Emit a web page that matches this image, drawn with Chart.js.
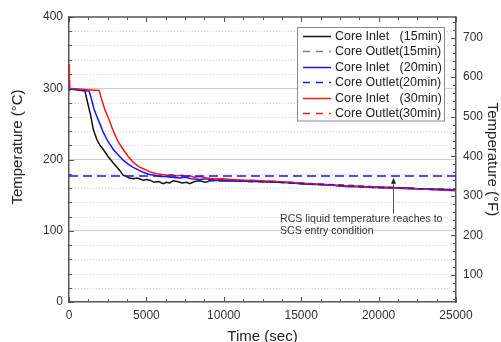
<!DOCTYPE html>
<html>
<head>
<meta charset="utf-8">
<script src="https://cdn.jsdelivr.net/npm/chart.js@4.4.0/dist/chart.umd.min.js"></script>
<style>
  html, body { margin: 0; padding: 0; background: #fff; overflow: hidden; }
  #wrap { width: 501px; height: 350px; }
</style>
</head>
<body>
<div id="wrap"><canvas id="chart" width="501" height="350"></canvas></div>
<script>
// Datos (tiempo en s, temperatura en °C)
const timeInlet15 = [0, 0, 60, 500, 1030, 1200, 1400, 1570, 1800, 2000, 2215, 2500, 2860, 3100, 3300, 3500, 3720, 3900, 4150, 4400, 4800, 5000, 5225, 5500, 5800, 6085, 6300, 6500, 6730, 7000, 7300, 7600, 7800, 8100, 8450, 8800, 9200, 9600, 9955, 10500, 11000, 11700, 12400, 13000, 13700, 14400, 15000, 15800, 16500, 17200, 18000, 18800, 19500, 20300, 21000, 21800, 22500, 23300, 24000, 24600, 25000];
const tempInlet15 = [300, 312, 299, 298, 296, 280, 262, 242, 228, 220, 214, 205, 195, 189, 184, 178, 176, 174, 173, 174, 171, 172, 171, 168, 169, 166, 168, 167, 170, 169, 167, 168, 166, 169, 170, 168, 170, 171, 170, 170, 170, 169, 169, 168, 168, 167, 166, 165, 165, 164, 162, 162, 161, 161, 160, 160, 159, 159, 158, 158, 157];

const timeInlet20 = [0, 0, 60, 600, 1300, 1450, 1600, 1785, 2000, 2215, 2500, 2860, 3200, 3500, 3800, 4150, 4500, 4800, 5200, 5500, 5870, 6200, 6600, 7160, 7500, 7900, 8450, 8900, 9400, 9955, 10500, 11200, 11900, 12600, 13300, 14000, 14800, 15500, 16200, 17000, 17800, 18600, 19400, 20200, 21000, 21800, 22600, 23400, 24200, 25000];
const tempInlet20 = [300, 305, 299, 298, 296, 285, 272, 261, 250, 238, 226, 214, 206, 199, 194, 189, 185, 182, 179, 178, 176, 176, 175, 174, 175, 173, 172, 173, 171, 171, 171, 170, 170, 169, 169, 168, 167, 166, 165, 164, 162, 162, 161, 161, 160, 160, 159, 158, 158, 157];

const timeInlet30 = [0, 0, 50, 600, 1200, 1950, 2100, 2320, 2600, 2860, 3150, 3500, 3800, 4150, 4500, 4800, 5010, 5300, 5660, 6000, 6300, 6600, 6950, 7300, 7590, 7800, 8100, 8500, 8880, 9300, 9955, 10500, 11200, 11900, 12600, 13300, 14000, 14800, 15500, 16200, 17000, 17800, 18600, 19400, 20200, 21000, 21800, 22600, 23400, 24200, 25000];
const tempInlet30 = [300, 334, 300, 299, 298, 297, 285, 270, 255, 240, 226, 214, 205, 196, 190, 187, 185, 182, 180, 179, 178, 179, 177, 178, 176, 177, 175, 176, 174, 173, 173, 172, 171, 171, 170, 169, 168, 167, 166, 165, 164, 163, 162, 161, 160, 160, 159, 159, 158, 157, 156];

// Core Outlet: sólo visible donde se separa de Inlet
const timeOutlet = [9000, 10500, 12000, 13500, 15000, 16500, 18000, 19500, 21000, 22500, 24000, 25000];
const tempOutlet15 = [170, 170, 169, 168, 167, 165, 163, 162, 160, 159, 158, 157];
const tempOutlet20 = [171, 170, 169, 168, 166, 165, 163, 161, 160, 159, 158, 157];
const tempOutlet30 = [173, 171, 170, 169, 167, 165, 164, 162, 161, 159, 158, 157];

// Condición de entrada SCS (350 °F)
const scsEntryTemp = 176.7;
const timeRange = [0, 25000];

// Ticks
const xTicks = [0, 5000, 10000, 15000, 20000, 25000];
const yTicks = [0, 100, 200, 300, 400];
const fTicks = [100, 200, 300, 400, 500, 600, 700];

const FONT = "'Liberation Sans', Arial, sans-serif";
const AXIS = '#555';

function pts(xs, ys) {
  return xs.map((x, i) => ({ x, y: ys[i] }));
}

function serie(label, xs, ys, color, dash, order) {
  return {
    label, data: pts(xs, ys), borderColor: color, backgroundColor: color,
    borderWidth: 1.5, borderDash: dash || [], pointRadius: 0, tension: 0, order
  };
}

const datasets = [
  serie('Core Inlet   (15min)', timeInlet15, tempInlet15, '#111111', null, 6),
  serie('Core Outlet(15min)', timeOutlet, tempOutlet15, '#808080', [6, 4], 3),
  serie('Core Inlet   (20min)', timeInlet20, tempInlet20, '#1515ff', null, 5),
  serie('Core Outlet(20min)', timeOutlet, tempOutlet20, '#1515ff', [6, 4], 1),
  serie('Core Inlet   (30min)', timeInlet30, tempInlet30, '#ff1515', null, 4),
  serie('Core Outlet(30min)', timeOutlet, tempOutlet30, '#ff1515', [6, 4], 2),
  Object.assign(serie('SCS entry', timeRange, [scsEntryTemp, scsEntryTemp], '#1515ff', [9, 5], 0), { hideInLegend: true })
];

// Rejilla menor punteada y borde superior
const gridMenor = {
  id: 'gridMenor',
  beforeDatasetsDraw(chart) {
    const { ctx, chartArea: a, scales: { y } } = chart;
    ctx.save();
    ctx.strokeStyle = '#d4d4d4';
    ctx.lineWidth = 1;
    ctx.setLineDash([1, 2]);
    for (let v = 20; v < 400; v += 20) {
      if (v % 100 === 0) continue;
      const py = Math.round(y.getPixelForValue(v)) + 0.5;
      ctx.beginPath(); ctx.moveTo(a.left, py); ctx.lineTo(a.right, py); ctx.stroke();
    }
    ctx.restore();
  },
  afterDraw(chart) {
    const { ctx, chartArea: a, scales: { x, y, y2 } } = chart;
    ctx.save();
    ctx.strokeStyle = AXIS;
    ctx.lineWidth = 1.5;
    ctx.beginPath(); ctx.moveTo(a.left, a.top); ctx.lineTo(a.right, a.top); ctx.stroke();
    // ticks hacia dentro
    ctx.lineWidth = 1;
    const line = (x1, y1, x2, y2_) => { ctx.beginPath(); ctx.moveTo(x1, y1); ctx.lineTo(x2, y2_); ctx.stroke(); };
    for (let v = 0; v <= 25000; v += 1250) {
      const px = Math.round(x.getPixelForValue(v)) + 0.5;
      const len = v % 5000 === 0 ? 5 : 3;
      line(px, a.bottom, px, a.bottom - len);
      line(px, a.top, px, a.top + len);
    }
    for (let v = 0; v <= 400; v += 20) {
      const py = Math.round(y.getPixelForValue(v)) + 0.5;
      line(a.left, py, a.left + (v % 100 === 0 ? 5 : 3), py);
    }
    for (let v = 40; v <= 740; v += 20) {
      const py = Math.round(y2.getPixelForValue(v)) + 0.5;
      line(a.right, py, a.right - (v % 100 === 0 ? 5 : 3), py);
    }
    ctx.restore();
  }
};

// Leyenda dentro del área del gráfico
const leyenda = {
  id: 'leyenda',
  afterDraw(chart) {
    const { ctx, chartArea: a } = chart;
    const items = chart.data.datasets.filter(d => !d.hideInLegend);
    const left = a.right - 159, top = a.top + 10, w = 147, rowH = 15.5;
    const h = items.length * rowH + 0.5;
    ctx.save();
    ctx.fillStyle = '#fff';
    ctx.fillRect(left, top, w, h);
    ctx.strokeStyle = '#8a8a8a';
    ctx.lineWidth = 1;
    ctx.strokeRect(left + 0.5, top + 0.5, w, h);
    ctx.font = '12.5px ' + FONT;
    ctx.textBaseline = 'middle';
    items.forEach((d, i) => {
      const yy = Math.round(top + 8.5 + i * rowH) + 0.5;
      ctx.strokeStyle = d.borderColor;
      ctx.lineWidth = 1.5;
      ctx.setLineDash(d.borderDash.length ? [7, 6] : []);
      ctx.beginPath(); ctx.moveTo(left + 6, yy); ctx.lineTo(left + 34, yy); ctx.stroke();
      ctx.setLineDash([]);
      ctx.fillStyle = '#222';
      ctx.fillText(d.label, left + 38, yy);
    });
    ctx.restore();
  }
};

// Nota con flecha
const nota = {
  id: 'nota',
  afterDatasetsDraw(chart) {
    const { ctx, scales: { x, y } } = chart;
    const ax = Math.round(x.getPixelForValue(20900)) + 0.5;
    const y0 = y.getPixelForValue(124), y1 = y.getPixelForValue(174.5);
    ctx.save();
    ctx.strokeStyle = '#555';
    ctx.fillStyle = '#222';
    ctx.lineWidth = 1;
    ctx.beginPath(); ctx.moveTo(ax, y0); ctx.lineTo(ax, y1 + 4); ctx.stroke();
    ctx.beginPath(); ctx.moveTo(ax, y1); ctx.lineTo(ax - 2.5, y1 + 6); ctx.lineTo(ax + 2.5, y1 + 6); ctx.closePath(); ctx.fill();
    ctx.font = '10.6px ' + FONT;
    ctx.fillStyle = '#333';
    ctx.textBaseline = 'middle';
    const tx = x.getPixelForValue(13630);
    ctx.fillText('RCS liquid temperature reaches to', tx, y.getPixelForValue(117));
    ctx.fillText('SCS entry condition', tx, y.getPixelForValue(99));
    ctx.restore();
  }
};

const tickFont = { family: FONT, size: 12 };
const titleFont = { family: FONT, size: 15 };
const plainNum = v => String(v);

new Chart(document.getElementById('chart'), {
  type: 'line',
  data: { datasets },
  options: {
    responsive: false,
    animation: false,
    parsing: false,
    layout: { padding: { left: 0, right: 0, top: 17, bottom: 0 } },
    plugins: { legend: { display: false }, tooltip: { enabled: false } },
    scales: {
      x: {
        type: 'linear', position: 'bottom', min: 0, max: 25000,
        afterBuildTicks: s => { s.ticks = xTicks.map(v => ({ value: v })); },
        afterFit: s => { s.height = 48; },
        ticks: { font: tickFont, color: '#333', padding: 6, maxRotation: 0, autoSkip: false, callback: plainNum },
        grid: { drawOnChartArea: false, drawTicks: false },
        border: { color: AXIS, width: 1.5 },
        title: { display: true, text: 'Time (sec)', font: titleFont, color: '#222', padding: { top: 0, bottom: 4 } }
      },
      y: {
        type: 'linear', position: 'left', min: 0, max: 400,
        afterBuildTicks: s => { s.ticks = yTicks.map(v => ({ value: v })); },
        afterFit: s => { s.width = 69; },
        ticks: { font: tickFont, color: '#333', padding: 6, callback: plainNum },
        grid: {
          drawTicks: false,
          color: c => (c.tick && (c.tick.value === 0 || c.tick.value === 400)) ? 'rgba(0,0,0,0)' : '#cfcfcf'
        },
        border: { color: AXIS, width: 1.5 },
        title: { display: true, text: '      Temperature (°C)', font: titleFont, color: '#222', padding: { top: 9 } }
      },
      y2: {
        type: 'linear', position: 'right', min: 32, max: 752,
        afterBuildTicks: s => { s.ticks = fTicks.map(v => ({ value: v })); },
        afterFit: s => { s.width = 45; },
        ticks: { font: tickFont, color: '#333', padding: 7, callback: plainNum },
        grid: { drawOnChartArea: false, drawTicks: false },
        border: { color: AXIS, width: 1.5 },
        title: { display: true, text: 'Temperature (°F)', font: titleFont, color: '#222', padding: { top: 0 } }
      }
    }
  },
  plugins: [gridMenor, nota, leyenda]
});
</script>
</body>
</html>
